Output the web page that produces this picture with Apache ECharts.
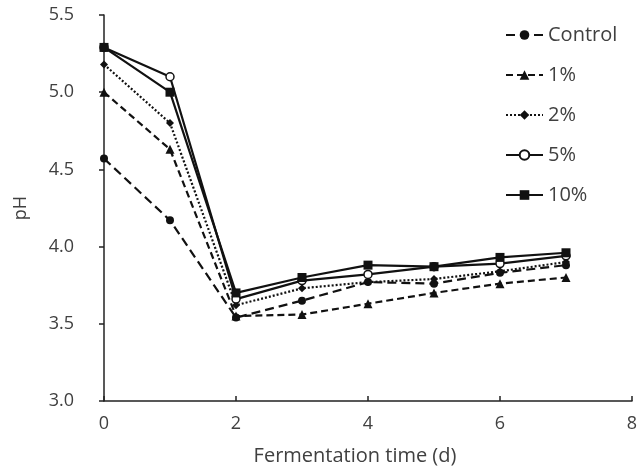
<!DOCTYPE html>
<html>
<head>
<meta charset="utf-8">
<script src="https://cdn.jsdelivr.net/npm/echarts@6/dist/echarts.min.js"></script>
<style>
  html, body { margin: 0; padding: 0; background: #fff; }
  #chart { width: 642px; height: 475px; }
</style>
</head>
<body>
<div id="chart"></div>
<script>
const days = [0, 1, 2, 3, 4, 5, 6, 7];
const control = [4.57, 4.17, 3.54, 3.65, 3.77, 3.76, 3.83, 3.88];
const pct1 = [5.00, 4.63, 3.55, 3.56, 3.63, 3.70, 3.76, 3.80];
const pct2 = [5.18, 4.80, 3.62, 3.73, 3.77, 3.79, 3.84, 3.90];
const pct5 = [5.29, 5.10, 3.66, 3.78, 3.82, 3.87, 3.89, 3.94];
const pct10 = [5.29, 5.00, 3.70, 3.80, 3.88, 3.87, 3.93, 3.96];

const seriesNames = ['Control', '1%', '2%', '5%', '10%'];
const seriesValues = [control, pct1, pct2, pct5, pct10];
const symbols = ['circle', 'triangle', 'diamond', 'circle', 'rect'];
const symbolSizes = [8, 9, 8, 8, 9];
const dashes = [[9, 5], [7, 4], [2, 2], 'solid', 'solid'];

const font = '"Open Sans", "Noto Sans", sans-serif';

function pairs(values) {
  return values.map((v, i) => [days[i], v]);
}

let chart = echarts.init(document.getElementById('chart'));

const option = {
  animation: false,
  backgroundColor: '#fff',
  grid: { left: 104, right: 10, top: 15, bottom: 74 },
  legend: {
    orient: 'vertical',
    left: 500,
    top: 19,
    itemGap: 18,
    itemWidth: 37,
    itemHeight: 12,
    textStyle: { fontFamily: font, fontSize: 20, lineHeight: 22, color: '#404040' },
    data: seriesNames
  },
  xAxis: {
    type: 'value',
    min: 0,
    max: 8,
    interval: 2,
    name: 'Fermentation time (d)',
    nameLocation: 'middle',
    nameGap: 45,
    nameTextStyle: { fontFamily: font, fontSize: 20, color: '#404040', padding: [0, 26, 0, 0] },
    axisLine: { lineStyle: { color: '#222', width: 1.5 } },
    axisTick: { inside: true, length: 5, lineStyle: { color: '#222', width: 1.5 } },
    axisLabel: { fontFamily: font, fontSize: 18, color: '#404040', margin: 14 },
    splitLine: { show: false }
  },
  yAxis: {
    type: 'value',
    min: 3,
    max: 5.5,
    interval: 0.5,
    name: 'pH',
    nameLocation: 'middle',
    nameGap: 74,
    nameTextStyle: { fontFamily: font, fontSize: 18, color: '#404040' },
    axisLine: { show: true, lineStyle: { color: '#222', width: 1.5 } },
    axisTick: { show: true, length: 5, lineStyle: { color: '#222', width: 1.5 } },
    axisLabel: {
      fontFamily: font, fontSize: 18, color: '#404040', margin: 30,
      formatter: v => v.toFixed(1)
    },
    splitLine: { show: false }
  },
  series: seriesNames.map((name, i) => ({
    name: name,
    type: 'line',
    data: pairs(seriesValues[i]),
    symbol: symbols[i],
    symbolSize: symbolSizes[i],
    color: '#111',
    itemStyle: {
      color: i === 3 ? '#fff' : '#111',
      borderColor: '#111',
      borderWidth: i === 3 ? 1.5 : 0
    },
    lineStyle: { color: '#111', width: 2.2, type: dashes[i] }
  }))
};

chart.setOption(option);
</script>
</body>
</html>
